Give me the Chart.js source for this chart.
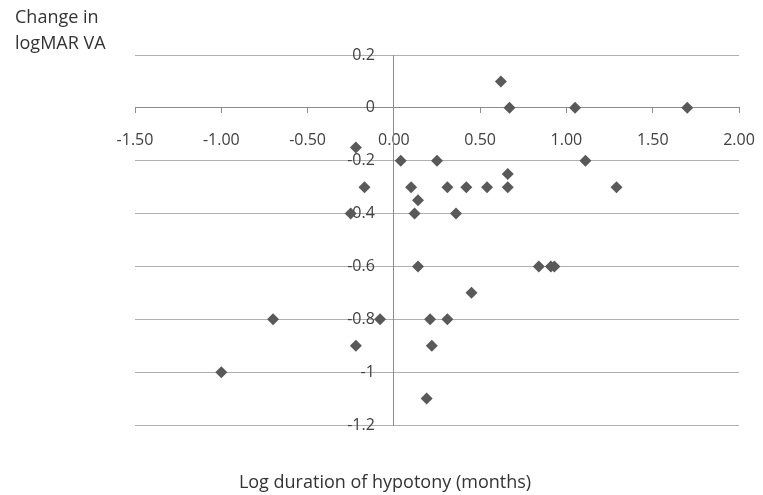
<!DOCTYPE html>
<html>
<head>
<meta charset="utf-8">
<script src="https://cdn.jsdelivr.net/npm/chart.js@4/dist/chart.umd.min.js"></script>
<style>
  html, body { margin: 0; padding: 0; background: #fff; }
  #wrap { position: relative; width: 763px; height: 495px; }
  #chart { position: absolute; left: 0; top: 0; }
  .axis-title {
    position: absolute;
    font-family: 'Open Sans', sans-serif;
    font-size: 18px;
    color: #333;
    white-space: nowrap;
  }
  #y-title { left: 15px; top: 3px; line-height: 26px; }
  #x-title { left: 0; width: 770px; top: 469px; text-align: center; }
</style>
</head>
<body>
<div id="wrap">
  <canvas id="chart" width="763" height="495"></canvas>
  <div class="axis-title" id="y-title">Change in<br>logMAR VA</div>
  <div class="axis-title" id="x-title">Log duration of hypotony (months)</div>
</div>
<script>
// --- Data (log months vs change in logMAR) ---
const logDuration = [
  -1.00, -0.70, -0.25, -0.22, -0.22, -0.17, -0.08,
  0.04, 0.10, 0.14, 0.12, 0.14, 0.19, 0.21, 0.22, 0.25,
  0.31, 0.31, 0.36, 0.42, 0.45, 0.54, 0.62, 0.66, 0.66,
  0.67, 0.84, 0.91, 0.93, 1.05, 1.11, 1.29, 1.70
];
const changeVA = [
  -1.0, -0.8, -0.4, -0.15, -0.9, -0.3, -0.8,
  -0.2, -0.3, -0.35, -0.4, -0.6, -1.1, -0.8, -0.9, -0.2,
  -0.3, -0.8, -0.4, -0.3, -0.7, -0.3, 0.1, -0.25, -0.3,
  0.0, -0.6, -0.6, -0.6, 0.0, -0.2, -0.3, 0.0
];
const xTicks = [-1.5, -1.0, -0.5, 0.0, 0.5, 1.0, 1.5, 2.0];
const yTicks = [0.2, 0, -0.2, -0.4, -0.6, -0.8, -1, -1.2];

const GRID = '#b0b0b0';
const AXIS = '#8c8c8c';
const TICK_TEXT = '#404040';
const TICK_FONT = { family: 'Open Sans', size: 16 };

const points = logDuration.map((x, i) => ({ x: x, y: changeVA[i] }));

const yRange = {
  type: 'linear',
  min: yTicks[yTicks.length - 1],
  max: yTicks[0],
  afterBuildTicks: axis => { axis.ticks = yTicks.map(v => ({ value: v })); },
};

new Chart(document.getElementById('chart').getContext('2d'), {
  type: 'scatter',
  data: {
    datasets: [{
      data: points,
      pointStyle: 'rectRot',
      pointRadius: 6,
      pointHoverRadius: 6,
      backgroundColor: '#595959',
      borderColor: '#595959',
      borderWidth: 0,
    }],
  },
  options: {
    responsive: false,
    animation: false,
    events: [],
    layout: { padding: { left: 135, top: 55, right: 24, bottom: 70 } },
    plugins: {
      legend: { display: false },
      tooltip: { enabled: false },
    },
    scales: {
      x: {
        type: 'linear',
        position: { y: 0 },
        min: xTicks[0],
        max: xTicks[xTicks.length - 1],
        afterBuildTicks: axis => { axis.ticks = xTicks.map(v => ({ value: v })); },
        // don't let the end labels shrink the plot area
        afterFit: axis => { axis.paddingLeft = 0; axis.paddingRight = 0; },
        grid: { drawOnChartArea: false, drawTicks: true, tickLength: 5, color: AXIS },
        border: { display: true, color: AXIS, width: 1 },
        ticks: {
          padding: 18,
          color: TICK_TEXT,
          font: TICK_FONT,
          callback: v => v.toFixed(2),
        },
      },
      // vertical axis line through x = 0 plus the horizontal gridlines
      y: Object.assign({}, yRange, {
        position: { x: 0 },
        grid: { drawOnChartArea: true, drawTicks: false, color: GRID },
        border: { display: true, color: AXIS, width: 1 },
        ticks: { display: false },
      }),
      // labels only, set a little left of the axis line (centred axes ignore ticks.padding)
      yLabels: Object.assign({}, yRange, {
        axis: 'y',
        position: { x: -0.11 },
        grid: { display: false },
        border: { display: false },
        ticks: {
          color: TICK_TEXT,
          font: TICK_FONT,
          callback: v => String(Number(v.toFixed(1))),
        },
      }),
    },
  },
});
</script>
</body>
</html>
